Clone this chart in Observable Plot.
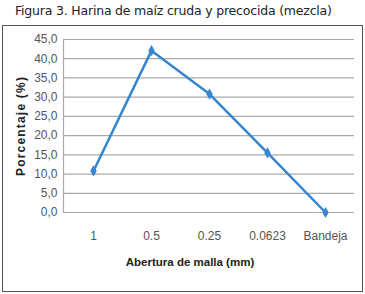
<!DOCTYPE html>
<html>
<head>
<meta charset="utf-8">
<script src="https://cdn.jsdelivr.net/npm/d3@7"></script>
<script src="https://cdn.jsdelivr.net/npm/@observablehq/plot@0.6"></script>
<style>
  html, body { margin: 0; padding: 0; background: #fff; }
  #page { position: relative; width: 365px; height: 294px; overflow: hidden; }
  #title { position: absolute; left: 15px; top: 3px; font-family: "DejaVu Sans", sans-serif; font-size: 12.5px; color: #222; white-space: nowrap; letter-spacing: -0.2px; }
  #box { position: absolute; left: 2px; top: 25px; width: 359px; height: 265px; border: 1px solid #555; background: #fff; }
  #box svg { display: block; }
</style>
</head>
<body>
<div id="page">
  <div id="title">Figura 3. Harina de maíz cruda y precocida (mezcla)</div>
  <div id="box"></div>
</div>
<script>
const categories = ["1", "0.5", "0.25", "0.0623", "Bandeja"];
const porcentaje = [10.8, 42.1, 30.8, 15.5, 0.0];
const yTicks = [0, 5, 10, 15, 20, 25, 30, 35, 40, 45];
const yLabel = "Porcentaje (%)";
const xLabel = "Abertura de malla (mm)";

const data = categories.map((c, i) => ({ cat: c, val: porcentaje[i] }));
const fmt = v => v.toFixed(1).replace(".", ",");
const blue = "#3585d0";

const chart = Plot.plot({
  width: 359,
  height: 265,
  marginLeft: 60,
  marginRight: 8,
  marginTop: 13,
  marginBottom: 79,
  style: { fontFamily: "'Liberation Sans Narrow', 'Liberation Sans', sans-serif", background: "#fff" },
  x: { type: "point", domain: categories, padding: 0.5 },
  y: { domain: [0, 45] },
  marks: [
    Plot.gridY(yTicks, { stroke: "#aaa", strokeOpacity: 1, strokeWidth: 1.2 }),
    Plot.axisY(yTicks, { tickSize: 0, tickPadding: 6, tickFormat: fmt, fontSize: 12, fill: "#555", label: null }),
    Plot.axisX({ tickSize: 0, tickPadding: 19, fontSize: 12, fill: "#555", label: null }),
    Plot.text([yLabel], { frameAnchor: "left", textAnchor: "middle", dx: -42, rotate: -90, fontSize: 12, fontWeight: "bold", fill: "#222", fontFamily: "'Liberation Sans', sans-serif", style: { letterSpacing: "1.2px" } }),
    Plot.text([xLabel], { frameAnchor: "bottom", dy: 53, dx: -19, fontSize: 11.5, fontWeight: "bold", fill: "#222", fontFamily: "'Liberation Sans Narrow', 'Liberation Sans', sans-serif" }),
    Plot.line(data, { x: "cat", y: "val", stroke: blue, strokeWidth: 2.5 }),
    Plot.dot(data, { x: "cat", y: "val", symbol: "diamond", fill: blue, r: 3.4 })
  ]
});

// vertical axis line on the left edge of the plot area
const svg = d3.select(chart);
svg.append("line")
  .attr("x1", 60.5).attr("x2", 60.5)
  .attr("y1", 13).attr("y2", 265 - 79)
  .attr("stroke", "#aaa").attr("stroke-width", 1.2);
svg.selectAll("text").filter(function() { return this.textContent === yLabel; })
  .style("letter-spacing", "1.2px");

document.getElementById("box").appendChild(chart);
</script>
</body>
</html>
